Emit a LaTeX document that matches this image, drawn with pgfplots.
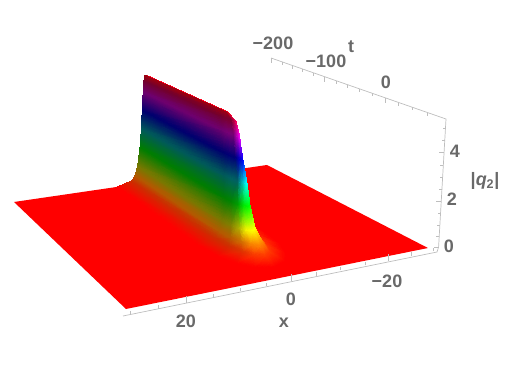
\documentclass[border=0pt]{standalone}
\usepackage{fontspec}
\setmainfont{Liberation Sans}
\usepackage{pgfplots}
\usepackage{pgfplotstable}
\pgfplotsset{compat=1.18}
\definecolor{axisgray}{RGB}{190,190,190}
\definecolor{labelgray}{RGB}{105,105,105}
% ridge mesh: one scanline per position along the contours, one row per height level
\pgfplotstableread{
x t z b
-7 -200 0 1
-3.6 -200 0.2 1
-2.87 -200 0.45 1
-2.24 -200 0.9 1
-1.58 -200 1.8 1
-1.17 -200 2.7 1
-0.86 -200 3.6 1
-0.54 -200 4.5 1
-0.28 -200 5.05 1
-0.15 -200 5.3 1
-7 -15 0 1
-3.6 -15 0.2 1
-2.87 -15 0.45 1
-2.24 -15 0.9 1
-1.58 -18 1.8 1
-1.17 -20 2.7 1
-0.86 -25 3.6 1
-0.54 -30 4.5 1
-0.28 -35 5.05 1
-0.15 -35 5.3 1
-6.42 14.2 0 1
-3.3 7.8 0.2 1
-2.63 4.2 0.45 1
-2.05 -0.6 0.9 1
-1.45 -5.2 1.8 1
-1.07 -8 2.7 1
-0.79 -13.4 3.6 1
-0.5 -18.4 4.5 1
-0.26 -23.8 5.05 1
-0.14 -29.8 5.3 1
-5 36.1 0 1
-2.57 24.9 0.2 1
-2.05 18.6 0.45 1
-1.6 10.2 0.9 1
-1.13 4.4 1.8 1
-0.84 1 2.7 1
-0.61 -4.7 3.6 1
-0.39 -9.7 4.5 1
-0.2 -15.4 5.05 1
-0.11 -25.9 5.3 1
-3.05 50.7 0 1
-1.57 36.3 0.2 1
-1.25 28.2 0.45 1
-0.98 17.4 0.9 1
-0.69 10.8 1.8 1
-0.51 7 2.7 1
-0.37 1.1 3.6 1
-0.24 -3.9 4.5 1
-0.12 -9.8 5.05 1
-0.07 -23.3 5.3 1
0 58 0 1
0 42 0.2 1
0 33 0.45 1
0 21 0.9 1
0 14 1.8 1
0 10 2.7 1
0 4 3.6 1
0 -1 4.5 1
0 -7 5.05 1
0 -22 5.3 1
3.05 50.7 0 1
1.57 36.3 0.2 0.98
1.25 28.2 0.45 0.97
0.98 17.4 0.9 0.95
0.69 10.8 1.8 0.9
0.51 7 2.7 0.71
0.37 1.1 3.6 0.74
0.24 -3.9 4.5 0.74
0.12 -9.8 5.05 0.75
0.07 -23.3 5.3 0.82
5 36.1 0 1
2.57 24.9 0.2 0.88
2.05 18.6 0.45 0.82
1.6 10.2 0.9 0.68
1.13 4.4 1.8 0.62
0.84 1 2.7 0.38
0.61 -4.7 3.6 0.46
0.39 -9.7 4.5 0.46
0.2 -15.4 5.05 0.48
0.11 -25.9 5.3 0.62
6.42 14.2 0 1
3.3 7.8 0.2 0.81
2.63 4.2 0.45 0.715
2.05 -0.6 0.9 0.5
1.45 -5.2 1.8 0.515
1.07 -8 2.7 0.38
0.79 -13.4 3.6 0.46
0.5 -18.4 4.5 0.46
0.26 -23.8 5.05 0.48
0.14 -29.8 5.3 0.62
7 -15 0 1
3.6 -15 0.2 0.8
2.87 -15 0.45 0.7
2.24 -15 0.9 0.47
1.58 -18 1.8 0.49
1.17 -20 2.7 0.35
0.86 -25 3.6 0.43
0.54 -30 4.5 0.43
0.28 -35 5.05 0.45
0.15 -35 5.3 0.6
7 -200 0 1
3.6 -200 0.2 0.8
2.87 -200 0.45 0.7
2.24 -200 0.9 0.47
1.58 -200 1.8 0.49
1.17 -200 2.7 0.35
0.86 -200 3.6 0.43
0.54 -200 4.5 0.43
0.28 -200 5.05 0.45
0.15 -200 5.3 0.6
}\ridge
\begin{document}
\begin{tikzpicture}[x=1pt,y=1pt]
\path[use as bounding box] (0,0) rectangle (523,365);
\begin{axis}[
  at={(0,0)},anchor=south west,
  scale only axis,width=523pt,height=365pt,
  xmin=0,xmax=523,ymin=0,ymax=365,
  hide axis,clip=false,
  declare function={
    uu(\x)=(30-\x)/60;
    vv(\t)=(80-\t)/280;
    ww(\x,\t)=1+0.158*uu(\x)+0.2942*vv(\t);
    gx(\x,\t)=(369.6*uu(\x)-107.9*vv(\t)+126)/ww(\x,\t);
    gy(\x,\t)=(-21.8*uu(\x)-47.6*vv(\t)+309)/ww(\x,\t);
    ss(\x,\t)=27.8/ww(\x,\t);
    px(\x,\t,\z)=gx(\x,\t)+(gx(\x,\t)-260)*0.00022*ss(\x,\t)*\z;
    py(\x,\t,\z)=365-gy(\x,\t)+ss(\x,\t)*\z;
    clampone(\q)=min(1,max(0,\q));
    cr(\z)=clampone(abs(6*\z/5.4-3)-1);
    cg(\z)=clampone(2-abs(6*\z/5.4-2));
    cb(\z)=clampone(2-abs(6*\z/5.4-4));
  },
]
% floor
\addplot[fill=red,draw=none,forget plot] table[
  x expr={px(\thisrow{x},\thisrow{t},0)},
  y expr={py(\thisrow{x},\thisrow{t},0)}]{
x t
30 80
-30 80
-30 -200
30 -200
};
% ridge
\addplot[surf,shader=interp,forget plot,
  mesh/cols=10,mesh/rows=11,mesh/ordering=x varies,
  mesh/color input=explicit mathparse,
  point meta={symbolic={\thisrow{b}*cr(\thisrow{z}),\thisrow{b}*cg(\thisrow{z}),\thisrow{b}*cb(\thisrow{z})}},
] table[
  x expr={px(\thisrow{x},\thisrow{t},\thisrow{z})},
  y expr={py(\thisrow{x},\thisrow{t},\thisrow{z})}]{\ridge};
% axis lines (picture coordinates)
\addplot[axisgray,line width=0.7pt,forget plot] table[x=X,y expr={365-\thisrow{Y}}]{
X Y
123 316
437 252
438.6 247
446 119
271 58
};
% ticks: position and offset, in picture coordinates
\addplot[axisgray,line width=0.7pt,forget plot,quiver={u=\thisrow{dx},v=\thisrow{dy}}]
 table[x=X,y expr={365-\thisrow{Y}}]{
X Y dx dy
130 314.6 0 3.5
158.3 308.7 0 3.5
186.7 302.7 0 7
213.3 297.1 0 3.5
240.7 291.4 0 3.5
266.7 286 0 3.5
291.7 280.7 0 7
316.7 275.5 0 3.5
340.7 270.4 0 3.5
365 265.3 0 3.5
388.3 260.5 0 7
411 255.7 0 3.5
433.3 251 0 3.5
271 58.3 0 -5
282.3 62.3 0 -3
292.3 65.7 0 -3
302.7 69.3 0 -3
313.3 73 0 -3
324 76.7 0 -5
336 80.9 0 -3
347.3 84.8 0 -3
359.3 89 0 -3
372.3 93.5 0 -3
385.3 98 0 -5
398.7 102.6 0 -3
412.7 107.5 0 -3
427.3 112.6 0 -3
445.5 128.3 -3 0
444.8 140 -3 0
444.1 152.7 -5 0
443.4 165 -3 0
442.6 177.3 -3 0
441.9 189.3 -3 0
441.2 201.7 -5 0
440.6 213.3 -3 0
439.9 225 -3 0
439.2 236 -3 0
438.6 247.3 -5 0
};
\end{axis}
\begin{scope}[every node/.style={text=labelgray,font=\fontsize{18}{18}\selectfont\bfseries,inner sep=0pt,anchor=center}]
\node at (273,365-43) {−200};
\node at (326,365-61) {−100};
\node at (386,365-82) {0};
\node at (351,365-47) {t};
\node at (455,365-151) {4};
\node at (452,365-199) {2};
\node at (449,365-246) {0};
\node at (485,365-181) {|\textit{q}\textsubscript{2}|};
\node at (186,365-321) {20};
\node at (291,365-299) {0};
\node at (387,365-281) {−20};
\node at (284,365-323) {x};
\end{scope}
\end{tikzpicture}
\end{document}
